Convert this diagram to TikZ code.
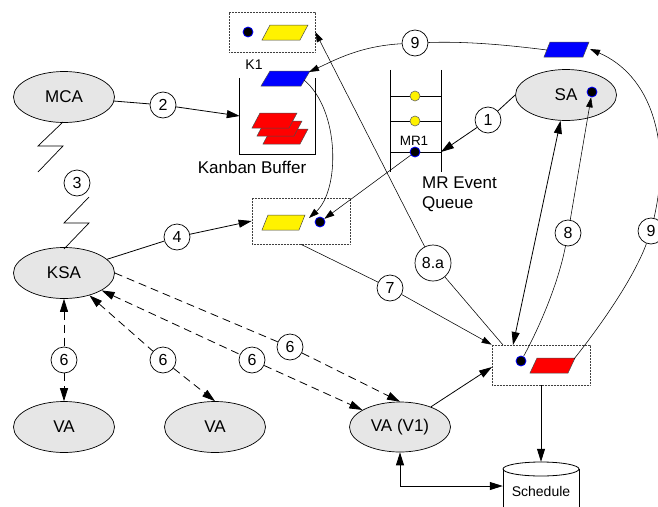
\documentclass[tikz,border=0pt]{standalone}
\usepackage{fontspec}
\setmainfont{Liberation Sans}
\usetikzlibrary{arrows.meta,shapes.geometric,calc}
\definecolor{agentgray}{RGB}{230,230,230}
% #1 x of lower-left, #2 top y, #3 width, #4 height, #5 slant, #6 colour
\newcommand{\mypara}[6]{\draw[fill=#6,draw=black!70,line width=0.5pt] (#1,#2+#4) -- (#1+#5,#2) -- (#1+#5+#3,#2) -- (#1+#3,#2+#4) -- cycle;}
\begin{document}
\begin{tikzpicture}[x=1pt,y=-1pt,
 agent/.style={ellipse,draw=black,line width=0.7pt,fill=agentgray,minimum width=101pt,minimum height=51pt,inner sep=0pt,font=\fontsize{17}{20}\selectfont},
 num/.style={circle,draw=black,line width=0.7pt,fill=white,minimum size=26pt,inner sep=0pt,font=\fontsize{16}{18}\selectfont},
 dbox/.style={draw=black!75,line width=0.7pt,dash pattern=on 0.9pt off 0.6pt,fill=white,inner sep=0pt},
 bdot/.style={circle,fill=black,draw=blue,line width=0.8pt,minimum size=10pt,inner sep=0pt},
 ydot/.style={circle,fill=yellow,draw=black!60,line width=0.6pt,minimum size=10pt,inner sep=0pt},
 lbl/.style={inner sep=0pt,font=\fontsize{17}{20}\selectfont},
 arrmain/.style={line width=0.8pt,-{Triangle[length=13pt,width=8pt]}},
 arrstart/.style={line width=0.8pt,{Triangle[length=13pt,width=8pt]}-},
 twoway/.style={line width=0.8pt,{Triangle[length=13pt,width=8pt]}-{Triangle[length=13pt,width=8pt]}},
 lite/.style={line width=0.55pt,-{Triangle[length=10pt,width=6.5pt]}},
 dsh/.style={dash pattern=on 8pt off 5pt},
 ]
\useasboundingbox (0,0) rectangle (658,506);
\fill[white] (0,0) rectangle (658,506);
\clip (0,0) rectangle (658,506);

% agents
\node[agent] (mca) at (64,97) {MCA};
\node[agent] (ksa) at (64,273) {KSA};
\node[agent] (sa) at (566,95) {SA};
\node[agent] (va1) at (64,427) {VA};
\node[agent] (va2) at (215,427) {VA};
\node[agent,minimum height=50pt] (va3) at (400,427) {VA (V1)};

% boxes
\node[dbox,minimum width=86pt,minimum height=40pt] (tbox) at (272,32) {};
\node[dbox,minimum width=98pt,minimum height=46pt] (mbox) at (301,221) {};
\node[dbox,minimum width=98pt,minimum height=40pt] (rbox) at (541,365) {};

% kanban buffer
\node[minimum width=75pt,minimum height=76pt,inner sep=0pt] (kb) at (277.5,116) {};
\draw[line width=0.8pt] (kb.north west) |- (kb.south east) -- (kb.north east);

% queue
\node[minimum width=50pt,minimum height=102pt,inner sep=0pt] (q) at (416,121) {};
\draw[line width=0.8pt] (q.north west) -- (q.south west) (q.north east) -- (q.south east);
\draw[line width=0.8pt] (391,96) -- (441,96) (391,121) -- (441,121) (391,152) -- (441,152);

% schedule
\node[minimum width=76pt,minimum height=48pt,inner sep=0pt] (sch) at (541,486) {};
\draw[line width=0.8pt] (503,469) -- (503,512) (579,469) -- (579,512);
\draw[line width=0.8pt] (541,469) ellipse [x radius=38pt,y radius=7pt];
\node[inner sep=0pt,font=\fontsize{14}{16}\selectfont] (schlab) at (541,491) {Schedule};

% parallelograms
\mypara{262}{25}{38}{15}{8}{yellow}
\mypara{261}{71}{40}{15}{9}{blue}
\mypara{263}{129}{37}{15}{8}{red}
\mypara{257}{121}{37}{15}{8}{red}
\mypara{252}{113}{37}{15}{8}{red}
\mypara{262}{215}{37}{15}{6}{yellow}
\mypara{530}{358}{38}{15}{7}{red}
\mypara{544}{42}{39}{15}{6}{blue}

% dots
\node[bdot] (tdot) at (248,32) {};
\node[bdot] (qdot) at (415,152) {};
\node[bdot] (mdot) at (320,222) {};
\node[bdot] (rdot) at (521,361) {};
\node[bdot] (sadot) at (592,92) {};
\node[ydot] (y1) at (415,96) {};
\node[ydot] (y2) at (415,121) {};

% labels
\node[lbl,font=\fontsize{14}{16}\selectfont] (k1lab) at (254,65) {K1};
\node[lbl,font=\fontsize{13.5}{16}\selectfont] (mr1lab) at (414,141) {MR1};
\node[lbl] (kblab) at (252,167) {Kanban Buffer};
\node[lbl,anchor=north west,align=left] (mrlab) at (422,177) {MR Event\\Queue};

% numbered circles
\node[num] (n1) at (488,120) {1};
\node[num] (n2) at (163,105) {2};
\node[num] (n3) at (77,183) {3};
\node[num] (n4) at (177,237) {4};
\node[num] (n7) at (390,288) {7};
\node[num] (n8) at (568,233) {8};
\node[num,minimum size=36pt] (n8a) at (433,263) {8.a};
\node[num] (n9) at (415,43) {9};
\node[num] (n9r) at (651,231) {9};
\node[num] (n6a) at (64,360) {6};
\node[num] (n6b) at (163,360) {6};
\node[num] (n6c) at (252,360) {6};
\node[num] (n6d) at (290,347) {6};

% free ends
\coordinate (k1a) at (309,72);
\coordinate (k1b) at (304,80);
\coordinate (myl) at (309,218);
\coordinate (bpL) at (547,50);
\coordinate (bpR) at (590,49);
\coordinate (rpr) at (574,359);
\coordinate (qr) at (441,152);
\coordinate (rbt) at (503,345);
\coordinate (rbt2) at (513,345);
\coordinate (rbw) at (492,367);

% lightning
\draw[line width=0.7pt] (63,122) -- (38,146) -- (63,146) -- (38,172);
\draw[line width=0.7pt] (89,197) -- (64,223) -- (89,223) -- (64,249);

% connectors
\draw[arrmain] (mca) -- (n2) -- (kb.west);
\draw[arrmain] (sa.west) -- (n1) -- (qr);
\draw[arrmain] (ksa) -- (n4) -- (mbox.west);
\draw[lite] (qdot) -- (mdot);
\draw[lite] (k1b) .. controls (340,110) and (340,190) .. (myl);
\draw[lite] (bpL) .. controls (515,46) and (470,41) .. (n9) .. controls (360,46) and (335,60) .. (k1a);
\draw[lite] (mbox.south) -- (n7) -- (rbox.north west);
\draw[lite] (rbt) -- (n8a) -- (tbox.east);
\draw[twoway] (sa) -- (rbt2);
\draw[lite] (rdot) .. controls (538,330) and (558,285) .. (n8) -- (sadot);
\draw[lite] (rpr) .. controls (605,320) and (635,275) .. (n9r) .. controls (672,140) and (650,75) .. (bpR);
\draw[arrmain] (va3) -- (rbw);
\draw[arrmain] (rbox.south) -- (sch.north);
\draw[twoway] (va3.south) |- (sch.west);
\draw[arrstart,dsh] (ksa) -- (n6a);
\draw[arrmain,dsh] (n6a) -- (va1);
\draw[arrstart,dsh] (ksa) -- (n6b);
\draw[arrmain,dsh] (n6b) -- (va2.north);
\draw[arrstart,dsh] (ksa) -- (n6c);
\draw[arrmain,dsh] (n6c) -- (va3);
\draw[arrmain,dsh] (ksa.east) -- (n6d) -- (va3.north);
\end{tikzpicture}
\end{document}
